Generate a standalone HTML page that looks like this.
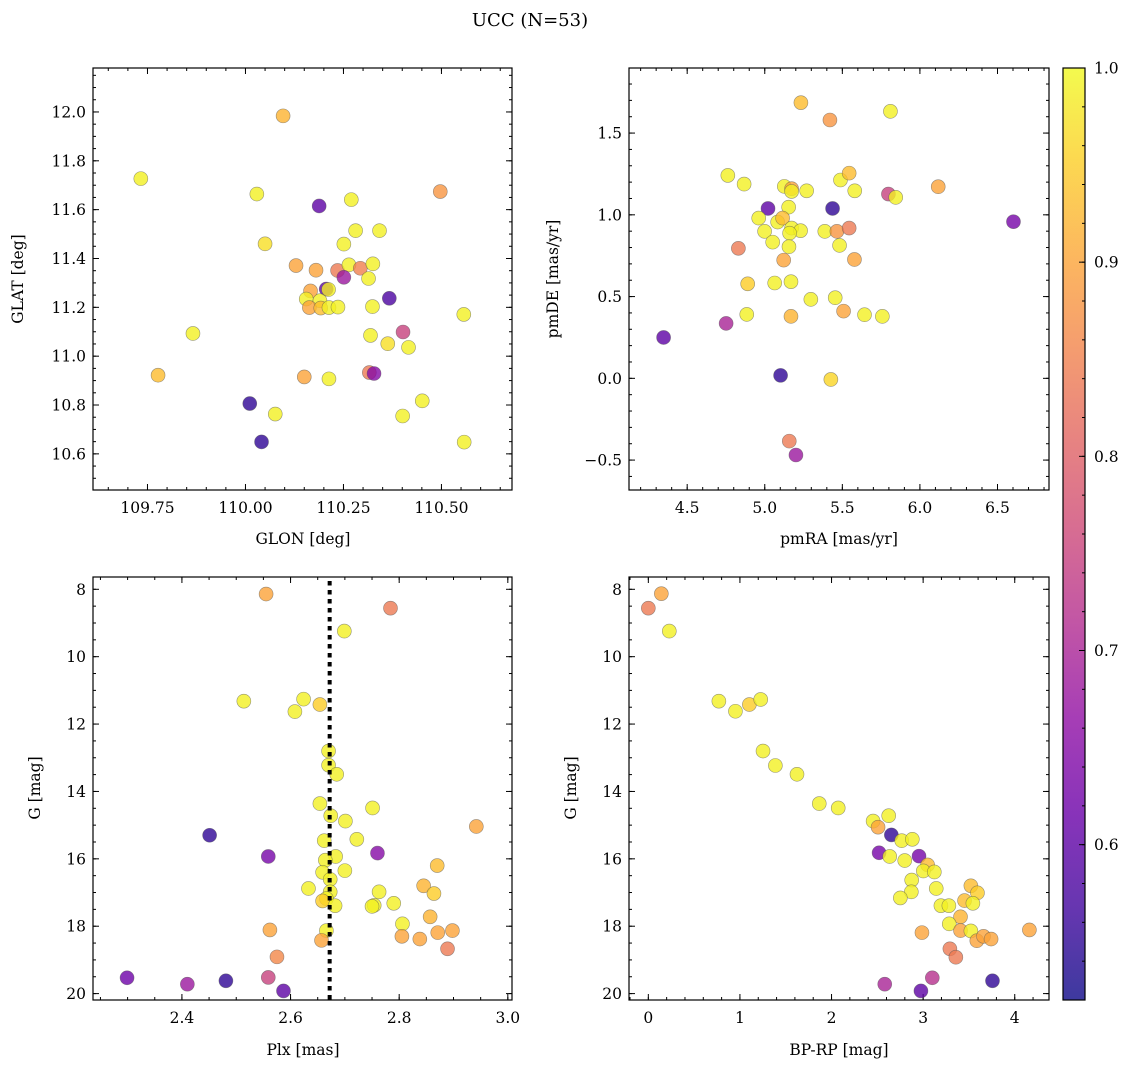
<!DOCTYPE html>
<html><head><meta charset="utf-8">
<style>
html,body{margin:0;padding:0;background:#fff;}
svg text{font-family:"DejaVu Serif","Liberation Serif",serif;fill:#000;}
</style></head>
<body>
<svg id="fig" width="1135" height="1067" viewBox="0 0 1135 1067" xmlns="http://www.w3.org/2000/svg">
<defs>
<linearGradient id="plasmaGrad" x1="0" y1="1" x2="0" y2="0">
<stop offset="0" stop-color="#0d0887"/><stop offset="0.1" stop-color="#41049d"/><stop offset="0.2" stop-color="#6a00a8"/><stop offset="0.3" stop-color="#8f0da4"/><stop offset="0.4" stop-color="#b12a90"/><stop offset="0.5" stop-color="#cc4778"/><stop offset="0.6" stop-color="#e16462"/><stop offset="0.7" stop-color="#f2844b"/><stop offset="0.8" stop-color="#fca636"/><stop offset="0.9" stop-color="#fcce25"/><stop offset="1" stop-color="#f0f921"/>
</linearGradient>
</defs>
<text x="530" y="26" font-size="18" text-anchor="middle">UCC (N=53)</text>
<text x="303" y="544" font-size="15.5" text-anchor="middle">GLON [deg]</text>
<text transform="translate(23,279) rotate(-90)" font-size="15.5" text-anchor="middle">GLAT [deg]</text>
<text x="839" y="544" font-size="15.5" text-anchor="middle">pmRA [mas/yr]</text>
<text transform="translate(558,279) rotate(-90)" font-size="15.5" text-anchor="middle">pmDE [mas/yr]</text>
<text x="303" y="1055" font-size="15.5" text-anchor="middle">Plx [mas]</text>
<text transform="translate(40,788) rotate(-90)" font-size="15.5" text-anchor="middle">G [mag]</text>
<text x="839" y="1055" font-size="15.5" text-anchor="middle">BP-RP [mag]</text>
<text transform="translate(576,788) rotate(-90)" font-size="15.5" text-anchor="middle">G [mag]</text>
</svg>
<script>
// ---- Panel 1: GLON vs GLAT ----
const glon = [110.096,109.733,110.029,110.497,110.188,110.270,110.281,110.342,110.251,110.050,110.129,110.180,110.235,110.264,110.293,110.325,110.251,110.314,110.206,110.212,110.166,110.155,110.190,110.163,110.192,110.213,110.236,110.324,110.367,110.557,109.866,110.319,110.402,110.363,110.416,109.777,110.150,110.213,110.316,110.328,110.011,110.076,110.451,110.401,110.041,110.558];
const glat = [11.984,11.727,11.664,11.674,11.615,11.641,11.514,11.514,11.459,11.460,11.371,11.352,11.351,11.374,11.360,11.378,11.323,11.318,11.275,11.273,11.267,11.234,11.227,11.199,11.197,11.199,11.201,11.203,11.237,11.171,11.093,11.085,11.099,11.051,11.036,10.922,10.915,10.907,10.933,10.929,10.806,10.763,10.817,10.755,10.649,10.648];
const probPos = [0.92,0.99,0.99,0.88,0.6,0.99,0.99,0.99,0.99,0.97,0.9,0.9,0.84,0.99,0.85,0.99,0.68,0.99,0.6,0.99,0.9,0.99,0.99,0.9,0.93,0.99,0.99,0.99,0.58,0.99,0.99,0.99,0.75,0.97,0.99,0.93,0.9,0.99,0.84,0.65,0.55,0.99,0.99,0.99,0.55,0.99];
// ---- Panel 2: pmRA vs pmDE ----
const pmra = [5.233,5.420,5.810,4.762,4.867,5.126,5.173,5.173,5.270,5.488,5.544,5.580,5.797,5.844,6.118,5.021,5.437,5.154,6.603,4.961,5.083,5.115,5.173,4.999,5.231,5.387,5.465,5.544,5.160,5.051,5.156,5.482,4.830,5.122,5.578,4.890,5.064,5.169,5.297,5.454,4.884,5.169,5.508,5.643,5.758,4.751,4.348,5.102,5.426,5.158,5.201];
const pmde = [1.686,1.580,1.633,1.241,1.188,1.174,1.160,1.143,1.147,1.213,1.255,1.147,1.127,1.107,1.172,1.039,1.039,1.047,0.958,0.980,0.956,0.980,0.919,0.899,0.903,0.899,0.899,0.919,0.888,0.833,0.805,0.813,0.795,0.723,0.727,0.578,0.583,0.591,0.483,0.493,0.391,0.379,0.411,0.389,0.379,0.336,0.250,0.018,-0.007,-0.384,-0.469];
const probPm = [0.93,0.88,0.99,0.99,0.99,0.99,0.9,0.99,0.99,0.99,0.93,0.99,0.75,0.99,0.9,0.6,0.55,0.99,0.63,0.99,0.99,0.93,0.99,0.99,0.99,0.99,0.88,0.84,0.99,0.99,0.99,0.99,0.84,0.9,0.9,0.95,0.99,0.99,0.99,0.99,0.99,0.92,0.9,0.99,0.99,0.7,0.6,0.55,0.96,0.84,0.68];
// ---- Panel 3: Plx vs G ----
const plx = [2.555,2.784,2.699,2.514,2.624,2.654,2.608,2.670,2.670,2.685,2.654,2.751,2.674,2.701,2.942,2.451,2.722,2.662,2.559,2.760,2.683,2.664,2.700,2.870,2.659,2.673,2.845,2.633,2.763,2.673,2.864,2.666,2.659,2.790,2.754,2.750,2.682,2.857,2.806,2.666,2.562,2.898,2.871,2.805,2.838,2.657,2.889,2.575,2.299,2.410,2.481,2.559,2.587];
const gmagPlx = [8.14,8.56,9.24,11.32,11.26,11.42,11.63,12.80,13.22,13.49,14.36,14.49,14.72,14.88,15.04,15.30,15.42,15.46,15.93,15.83,15.93,16.04,16.35,16.20,16.40,16.61,16.80,16.88,16.98,16.98,17.03,17.18,17.25,17.32,17.38,17.41,17.39,17.72,17.93,18.13,18.11,18.13,18.19,18.30,18.38,18.42,18.67,18.91,19.53,19.72,19.62,19.52,19.92];
const probPlx = [0.9,0.84,0.99,0.99,0.99,0.95,0.99,0.99,0.99,0.99,0.99,0.99,0.99,0.99,0.9,0.55,0.99,0.99,0.63,0.65,0.99,0.99,0.99,0.93,0.99,0.99,0.92,0.99,0.99,0.99,0.95,0.99,0.95,0.99,0.99,0.99,0.99,0.92,0.99,0.99,0.9,0.9,0.9,0.9,0.9,0.9,0.84,0.86,0.62,0.68,0.55,0.75,0.6];
const plxMedian = [2.672];
// ---- Panel 4: BP-RP vs G ----
const bprp = [0.0,0.142,0.229,0.770,0.951,1.103,1.227,1.252,1.387,1.623,1.866,2.073,2.454,2.508,2.624,2.653,2.766,2.882,2.519,2.635,2.955,2.799,3.049,3.002,3.122,2.875,3.143,2.871,2.751,3.521,3.593,3.452,3.543,3.194,3.281,3.408,3.285,3.408,3.521,2.987,4.160,3.586,3.659,3.742,3.292,3.357,2.581,3.100,3.757,2.976];
const gmagCmd = [8.56,8.13,9.24,11.32,11.62,11.42,11.27,12.80,13.23,13.49,14.36,14.49,14.88,15.06,14.72,15.29,15.46,15.42,15.82,15.93,15.92,16.05,16.18,16.36,16.39,16.63,16.88,16.98,17.16,16.80,17.01,17.24,17.32,17.39,17.39,17.72,17.93,18.13,18.14,18.19,18.11,18.43,18.30,18.38,18.67,18.92,19.72,19.53,19.62,19.92];
const probCmd = [0.84,0.9,0.99,0.99,0.99,0.95,0.99,0.99,0.99,0.99,0.99,0.99,0.99,0.9,0.99,0.55,0.99,0.99,0.63,0.99,0.63,0.99,0.93,0.99,0.99,0.99,0.99,0.99,0.99,0.93,0.95,0.93,0.99,0.99,0.99,0.92,0.99,0.9,0.99,0.9,0.9,0.9,0.9,0.9,0.84,0.84,0.7,0.72,0.55,0.6];
// ---- ticks ----
const glonTicks = [109.75,110.00,110.25,110.50];
const glonTickLabels = ['109.75','110.00','110.25','110.50'];
const glatTicks = [10.6,10.8,11.0,11.2,11.4,11.6,11.8,12.0];
const glatTickLabels = ['10.6','10.8','11.0','11.2','11.4','11.6','11.8','12.0'];
const pmraTicks = [4.5,5.0,5.5,6.0,6.5];
const pmraTickLabels = ['4.5','5.0','5.5','6.0','6.5'];
const pmdeTicks = [-0.5,0,0.5,1.0,1.5];
const pmdeTickLabels = ['\u22120.5','0.0','0.5','1.0','1.5'];
const plxTicks = [2.4,2.6,2.8,3.0];
const plxTickLabels = ['2.4','2.6','2.8','3.0'];
const gTicks = [8,10,12,14,16,18,20];
const gTickLabels = ['8','10','12','14','16','18','20'];
const bprpTicks = [0,1,2,3,4];
const bprpTickLabels = ['0','1','2','3','4'];
const cbarTicks = [0.6,0.7,0.8,0.9,1.0];
const cbarTickLabels = ['0.6','0.7','0.8','0.9','1.0'];

const NS='http://www.w3.org/2000/svg';
const svg=document.getElementById('fig');
const VMIN=0.52, VMAX=1.0;
const stops=[[13,8,135],[65,4,157],[106,0,168],[143,13,164],[177,42,144],[204,71,120],[225,100,98],[242,132,75],[252,166,54],[252,206,37],[240,249,33]];
function plasma(v){let t=(v-VMIN)/(VMAX-VMIN);t=Math.max(0,Math.min(1,t))*10;const i=Math.min(9,Math.floor(t)),f=t-i;const a=stops[i],b=stops[i+1];return 'rgb('+a.map((c,k)=>Math.round(c+(b[k]-c)*f)).join(',')+')';}
function mk(tag,attrs,parent){const e=document.createElementNS(NS,tag);for(const k in attrs)e.setAttribute(k,attrs[k]);(parent||svg).appendChild(e);return e;}
function lin(d0,d1,r0,r1){return v=>r0+(v-d0)/(d1-d0)*(r1-r0);}

function panel(o){
  const g=mk('g',{});
  
  
  const sx=lin(o.xd[0],o.xd[1],o.box[0],o.box[2]);
  const sy=lin(o.yd[0],o.yd[1],o.box[3],o.box[1]);
  const [L,T,R,B]=o.box;
  const ticksG=mk('g',{stroke:'#000','stroke-width':1},g);
  const xlo=Math.min(...o.xd),xhi=Math.max(...o.xd),ylo=Math.min(...o.yd),yhi=Math.max(...o.yd);
  for(let v=Math.ceil(xlo/o.xminor)*o.xminor;v<=xhi;v+=o.xminor){const x=sx(v);mk('line',{x1:x,x2:x,y1:B,y2:B-3},ticksG);mk('line',{x1:x,x2:x,y1:T,y2:T+3},ticksG);}
  for(let v=Math.ceil(ylo/o.yminor)*o.yminor;v<=yhi;v+=o.yminor){const y=sy(v);mk('line',{x1:L,x2:L+3,y1:y,y2:y},ticksG);mk('line',{x1:R,x2:R-3,y1:y,y2:y},ticksG);}
  o.xt.forEach((v,i)=>{const x=sx(v);mk('line',{x1:x,x2:x,y1:B,y2:B-6},ticksG);mk('line',{x1:x,x2:x,y1:T,y2:T+6},ticksG);
    const t=mk('text',{x:x,y:B+23,'font-size':15.5,'text-anchor':'middle'},g);t.textContent=o.xl[i];
    
    });
  o.yt.forEach((v,i)=>{const y=sy(v);mk('line',{x1:L,x2:L+6,y1:y,y2:y},ticksG);mk('line',{x1:R,x2:R-6,y1:y,y2:y},ticksG);
    const t=mk('text',{x:L-7,y:y+5.5,'font-size':15.5,'text-anchor':'end'},g);t.textContent=o.yl[i];
    
    });
  const pts=mk('g',{},g);
  
  
  o.xs.forEach((xv,i)=>{
    const c=mk('circle',{cx:sx(xv),cy:sy(o.ys[i]),r:7,fill:plasma(o.ps[i]),'fill-opacity':0.8,stroke:'#555','stroke-opacity':0.6,'stroke-width':0.6},pts);
    
    
  });
  if(o.vline){o.vline.forEach(v=>{const l=mk('line',{x1:sx(v),x2:sx(v),y1:T+4,y2:B,stroke:'#000','stroke-width':4,'stroke-dasharray':'4.5 4.5'},g);
    
    });}
  const fr=mk('rect',{x:L,y:T,width:R-L,height:B-T,fill:'none',stroke:'#000','stroke-width':1.2},g);
  
  
}
panel({name:'glon-glat-panel',box:[93,68,512,490],xd:[109.611,110.680],yd:[10.452,12.18],xt:glonTicks,xl:glonTickLabels,yt:glatTicks,yl:glatTickLabels,xminor:0.05,yminor:0.05,xs:glon,ys:glat,ps:probPos});
panel({name:'pm-panel',box:[629,68,1049,490],xd:[4.125,6.832],yd:[-0.683,1.898],xt:pmraTicks,xl:pmraTickLabels,yt:pmdeTicks,yl:pmdeTickLabels,xminor:0.1,yminor:0.1,xs:pmra,ys:pmde,ps:probPm});
panel({name:'plx-g-panel',box:[93,577,512,1000],xd:[2.2363,3.0077],yd:[20.19,7.635],xt:plxTicks,xl:plxTickLabels,yt:gTicks,yl:gTickLabels,xminor:0.05,yminor:0.5,xs:plx,ys:gmagPlx,ps:probPlx,vline:plxMedian});
panel({name:'cmd-panel',box:[629,577,1049,1000],xd:[-0.211,4.374],yd:[20.19,7.635],xt:bprpTicks,xl:bprpTickLabels,yt:gTicks,yl:gTickLabels,xminor:0.2,yminor:0.5,xs:bprp,ys:gmagCmd,ps:probCmd});

(function(){
  const L=1063,R=1085,T=68,B=1000;
  const cg=mk('g',{});
  
  
  mk('rect',{x:L,y:T,width:R-L,height:B-T,fill:'url(#plasmaGrad)','fill-opacity':0.8},cg);
  const sy=lin(VMIN,VMAX,B,T);
  for(let v=0.52;v<=1.0001;v+=0.02){const y=sy(v);mk('line',{x1:R,x2:R-3,y1:y,y2:y,stroke:'#000','stroke-width':1},cg);}
  cbarTicks.forEach((v,i)=>{const y=sy(v);mk('line',{x1:R,x2:R-6,y1:y,y2:y,stroke:'#000','stroke-width':1},cg);
    const t=mk('text',{x:R+9,y:y+5.5,'font-size':15.5},cg);t.textContent=cbarTickLabels[i];
    
    });
  mk('rect',{x:L,y:T,width:R-L,height:B-T,fill:'none',stroke:'#000','stroke-width':1.2},cg);
})();
</script>
</body></html>
